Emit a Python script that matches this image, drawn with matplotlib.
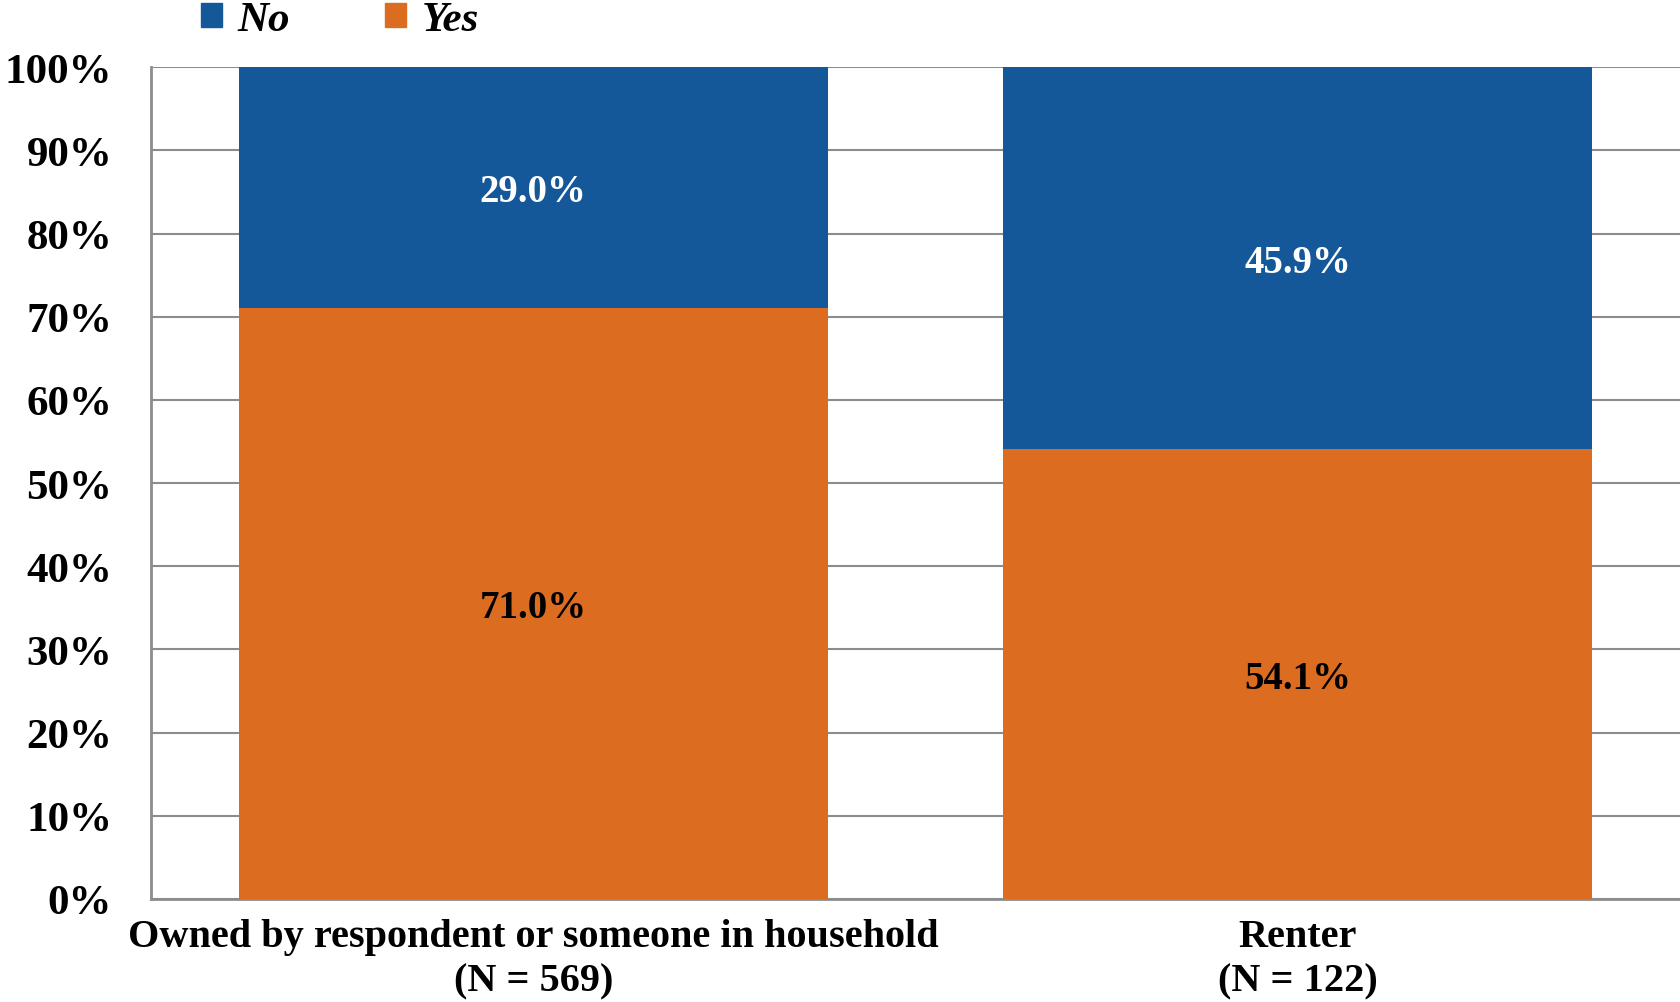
import numpy as np
import matplotlib.pyplot as plt
from matplotlib.patches import Patch

categories = ['Owned by respondent or someone in household\n(N = 569)', 'Renter\n(N = 122)']
yes_vals = [71.0, 54.1]
no_vals = [29.0, 45.9]
yticks = [0, 10, 20, 30, 40, 50, 60, 70, 80, 90, 100]

blue = '#15589a'
orange = '#dc6c1f'
grid = '#8c8c8c'

plt.rcParams['font.family'] = ['Liberation Serif', 'DejaVu Serif']
plt.rcParams['font.weight'] = 'bold'

fig = plt.figure(figsize=(16.8, 10.03), dpi=100)
ax = fig.add_axes([0.0899, 0.1027, 0.9101, 0.8293])

x = np.arange(len(categories))
w = 0.77
ax.bar(x, yes_vals, w, color=orange, zorder=3)
ax.bar(x, no_vals, w, bottom=yes_vals, color=blue, zorder=3)

# segment labels, centred in each piece
for i in range(len(x)):
    ax.text(x[i], yes_vals[i] / 2 - 0.5, '%.1f%%' % yes_vals[i], ha='center', va='center',
            fontsize=28, fontweight='bold', color='black', zorder=4)
    ax.text(x[i], yes_vals[i] + no_vals[i] / 2 - 0.5, '%.1f%%' % no_vals[i], ha='center', va='center',
            fontsize=28, fontweight='bold', color='white', zorder=4)

ax.set_xlim(-0.5, 1.5)
ax.set_ylim(0, 100)
ax.set_yticks(yticks)
ax.set_yticklabels(['%d%%' % t for t in yticks], fontsize=31, fontweight='bold')
ax.set_xticks(x)
ax.set_xticklabels(categories, fontsize=29, fontweight='bold', linespacing=1.25)
ax.tick_params(length=0)
ax.tick_params(axis='y', pad=28)
ax.tick_params(axis='x', pad=14)
ax.yaxis.grid(True, color=grid, linewidth=1.5, zorder=0)
for s in ['top', 'right']:
    ax.spines[s].set_visible(False)
for s in ['left', 'bottom']:
    ax.spines[s].set_color(grid)
    ax.spines[s].set_linewidth(2)

handles = [Patch(color=blue, label='No'), Patch(color=orange, label='Yes')]
fig.legend(handles=handles, loc='center left', bbox_to_anchor=(0.1196, 0.979), ncol=2,
           frameon=False, prop={'size': 31, 'weight': 'bold', 'style': 'italic'},
           handlelength=0.5, handleheight=0.5, handletextpad=0.35, columnspacing=2.2,
           borderaxespad=0, borderpad=0)

fig.savefig('out.png', dpi=100)
